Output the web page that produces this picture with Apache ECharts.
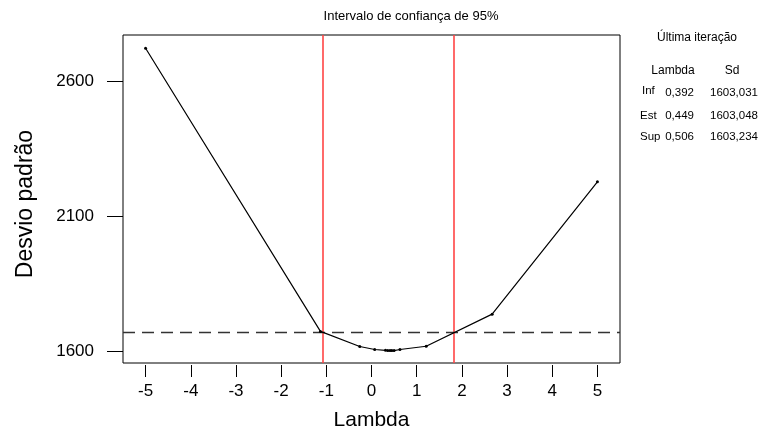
<!DOCTYPE html>
<html>
<head>
<meta charset="utf-8">
<script src="https://cdn.jsdelivr.net/npm/echarts@6/dist/echarts.min.js"></script>
<style>
html,body{margin:0;padding:0;background:#fff;}
#chart{width:764px;height:436px;}
</style>
</head>
<body>
<div id="chart"></div>
<script>
// ---- data ----
const lambdaValues = [-5, -1.13, -0.26, 0.07, 0.31, 0.36, 0.41, 0.45, 0.50, 0.63, 1.21, 2.67, 5];
const sdValues = [2723, 1674, 1618, 1607, 1604, 1603, 1603, 1603, 1603, 1607, 1619, 1738, 2228];
const ciBounds = [-1.08, 1.83];
const threshold = 1672;
const xTicks = [-5, -4, -3, -2, -1, 0, 1, 2, 3, 4, 5];
const yTicks = [1600, 2100, 2600];
const tableRows = ['Inf', 'Est', 'Sup'];
const tableLambda = ['0,392', '0,449', '0,506'];
const tableSd = ['1603,031', '1603,048', '1603,234'];
const titleText = 'Intervalo de confiança de 95%';
const tableTitle = 'Última iteração';
const xName = 'Lambda';
const yName = 'Desvio padrão';

const FONT = '"Liberation Sans", Arial, sans-serif';
const chart = echarts.init(document.getElementById('chart'), null, {renderer: 'canvas'});

const rowY = [93, 116, 137];
const labelY = [91, 116, 137];
const TF = '11.5px ' + FONT;
const graphics = [
  {type: 'text', x: 411, y: 16, style: {text: titleText, textAlign: 'center', textVerticalAlign: 'middle', font: '13px ' + FONT, fill: '#000'}},
  {type: 'text', x: 26, y: 204, rotation: Math.PI / 2, style: {text: yName, textAlign: 'center', textVerticalAlign: 'middle', font: '23px ' + FONT, fill: '#000'}},
  {type: 'text', x: 697, y: 38, style: {text: tableTitle, textAlign: 'center', textVerticalAlign: 'middle', font: '12px ' + FONT, fill: '#000'}},
  {type: 'text', x: 673, y: 71, style: {text: 'Lambda', textAlign: 'center', textVerticalAlign: 'middle', font: '12px ' + FONT, fill: '#000'}},
  {type: 'text', x: 732, y: 71, style: {text: 'Sd', textAlign: 'center', textVerticalAlign: 'middle', font: '12px ' + FONT, fill: '#000'}}
];
tableRows.forEach((r, i) => {
  graphics.push({type: 'text', x: i === 0 ? 642 : 640, y: labelY[i], style: {text: r, textAlign: 'left', textVerticalAlign: 'middle', font: TF, fill: '#000'}});
  graphics.push({type: 'text', x: 694, y: rowY[i], style: {text: tableLambda[i], textAlign: 'right', textVerticalAlign: 'middle', font: TF, fill: '#000'}});
  graphics.push({type: 'text', x: 758, y: rowY[i], style: {text: tableSd[i], textAlign: 'right', textVerticalAlign: 'middle', font: TF, fill: '#000'}});
});

const option = {
  backgroundColor: '#fff',
  animation: false,
  textStyle: {fontFamily: FONT},
  grid: {left: 123, top: 35, width: 497, height: 330, show: true, borderColor: '#000', borderWidth: 1, backgroundColor: 'transparent'},
  xAxis: {
    type: 'value', min: -5.5, max: 5.5, offset: 2,
    axisLine: {show: false, onZero: false},
    axisTick: {show: true, length: 12, lineStyle: {color: '#000', width: 1}, customValues: xTicks},
    axisLabel: {show: true, color: '#000', fontSize: 17, fontFamily: FONT, margin: 18, customValues: xTicks, formatter: v => String(v)},
    splitLine: {show: false},
    name: xName, nameLocation: 'middle', nameGap: 45,
    nameTextStyle: {color: '#000', fontSize: 21, fontFamily: FONT}
  },
  yAxis: {
    type: 'value', min: 1557, max: 2772,
    axisLine: {show: false, onZero: false},
    axisTick: {show: true, length: 16, lineStyle: {color: '#000', width: 1}, customValues: yTicks},
    axisLabel: {show: true, color: '#000', fontSize: 17, fontFamily: FONT, margin: 29, customValues: yTicks, formatter: v => String(v)},
    splitLine: {show: false}
  },
  series: [{
    type: 'line',
    data: lambdaValues.map((l, i) => [l, sdValues[i]]),
    symbol: 'circle', symbolSize: 3,
    lineStyle: {color: '#000', width: 1.2},
    itemStyle: {color: '#000'},
    z: 5,
    markLine: {
      silent: true, symbol: 'none', label: {show: false},
      data: [
        {xAxis: ciBounds[0], lineStyle: {color: '#ff4444', width: 1.6, type: 'solid'}},
        {xAxis: ciBounds[1], lineStyle: {color: '#ff4444', width: 1.6, type: 'solid'}},
        {yAxis: threshold, lineStyle: {color: '#333', width: 1.4, type: [12, 7]}}
      ]
    }
  }],
  graphic: graphics
};
chart.setOption(option);
</script>
</body>
</html>
